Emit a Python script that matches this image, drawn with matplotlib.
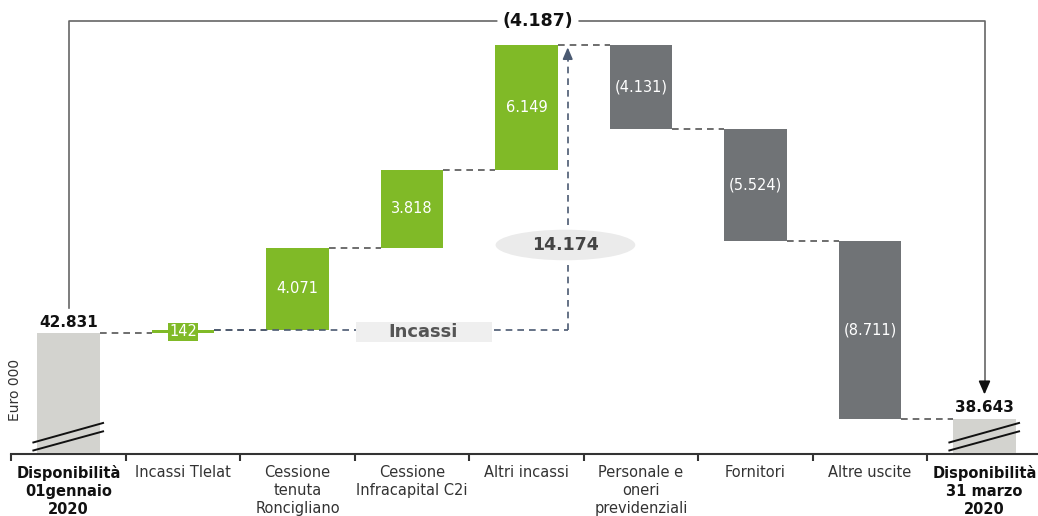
import matplotlib
matplotlib.use("Agg")
import matplotlib.pyplot as plt
import numpy as np
from matplotlib.patches import Ellipse, Rectangle

categories = [
    "Disponibilità\n01gennaio\n2020",
    "Incassi Tlelat",
    "Cessione\ntenuta\nRoncigliano",
    "Cessione\nInfracapital C2i",
    "Altri incassi",
    "Personale e\noneri\nprevidenziali",
    "Fornitori",
    "Altre uscite",
    "Disponibilità\n31 marzo\n2020",
]
values = [42831, 142, 4071, 3818, 6149, -4131, -5524, -8711, 38643]
kinds = ["total", "in", "in", "in", "in", "out", "out", "out", "total"]
# totals as printed on the chart (rounded in the source)
incassi_total = 14174
net_change = -4187

GREEN = "#80BA27"
DARK = "#707376"
LIGHT = "#D3D3CF"
BLUE = "#4B5A72"


def fmt(v):
    s = f"{abs(v):,}".replace(",", ".")
    return f"({s})" if v < 0 else s


fig = plt.figure(figsize=(10.38, 5.16), dpi=100)
ax = fig.add_axes([11.25 / 1038, 62.5 / 516, 1030.5 / 1038, 453.5 / 516])
ymin, ymax = 36930, 59200
ax.set_xlim(-0.5, 8.5)
ax.set_ylim(ymin, ymax)

w = 0.55
x = np.arange(len(values))
level = values[0]
tops = []
for i, (v, k) in enumerate(zip(values, kinds)):
    if k == "total":
        bottom, height, col = ymin, v - ymin, LIGHT
        top = v
    else:
        bottom = level if v > 0 else level + v
        height = abs(v)
        col = GREEN if k == "in" else DARK
        level += v
        top = level
    ax.bar(x[i], height, bottom=bottom, width=w, color=col, zorder=3)
    tops.append(top)
    if k == "total":
        ax.text(x[i], v + 180, fmt(v), ha="center", va="bottom",
                fontsize=11, fontweight="bold", color="#111", zorder=6)
    elif abs(v) < 500:
        ax.text(x[i], bottom + height / 2, fmt(v), ha="center", va="center",
                fontsize=10.5, color="white", zorder=6,
                bbox=dict(boxstyle="square,pad=0.08", fc=GREEN, ec="none"))
    else:
        ax.text(x[i], bottom + height / 2, fmt(v), ha="center", va="center",
                fontsize=10.5, color="white", zorder=6)

# connectors
for i in range(len(values) - 1):
    lvl = values[0] if i == 0 else tops[i]
    ax.plot([x[i] + w / 2, x[i + 1] - w / 2], [lvl, lvl], color="#555",
            lw=1.2, dashes=(4, 3), zorder=2)

# incassi arrow
x_arrow = 4.36
y_base = tops[1]
y_peak = tops[4]
ax.plot([x[1] + w / 2, x_arrow], [y_base, y_base], color=BLUE, lw=1.2,
        dashes=(4, 3), zorder=4)
ax.plot([x_arrow, x_arrow], [y_base, y_peak - 500], color=BLUE, lw=1.2,
        dashes=(4, 3), zorder=4)
ax.annotate("", xy=(x_arrow, y_peak), xytext=(x_arrow, y_peak - 600),
            arrowprops=dict(arrowstyle="-|>,head_length=0.7,head_width=0.3",
                            color=BLUE, lw=1.2), zorder=5)
ax.add_patch(Rectangle((2.51, 42404), 1.19, 982, fc="#EFEFEF", ec="none", zorder=5))
ax.text(3.1, 42895, "Incassi", ha="center", va="center", fontsize=13,
        fontweight="bold", color="#555", zorder=6)
ax.add_patch(Ellipse((4.34, 47170), 1.22, 1500, fc="#EBEBEB", ec="none", zorder=4))
ax.text(4.34, 47170, fmt(incassi_total), ha="center", va="center", fontsize=12.5,
        fontweight="bold", color="#444", zorder=6)

# overall change bracket
y_br = 58180
ax.plot([x[0], x[0], x[-1], x[-1]],
        [values[0] + 1230, y_br, y_br, values[-1] + 1800],
        color="#666", lw=1.2, zorder=2)
ax.annotate("", xy=(x[-1], values[-1] + 1050), xytext=(x[-1], values[-1] + 1900),
            arrowprops=dict(arrowstyle="-|>,head_length=0.8,head_width=0.35",
                            color="#111", lw=1.2), zorder=5)
ax.text(4.1, y_br, fmt(net_change), ha="center", va="center", fontsize=12.5,
        fontweight="bold", color="#111", zorder=6,
        bbox=dict(boxstyle="round,pad=0.3", fc="white", ec="none"))

# axis break marks
for i in (0, 8):
    for y0, y1 in ((37460, 38442), (37067, 38030)):
        ax.plot([x[i] - 0.315, x[i] + 0.31], [y0, y1], color="#111", lw=1.4,
                zorder=5, solid_capstyle="butt")

for s in ("top", "right", "left"):
    ax.spines[s].set_visible(False)
ax.spines["bottom"].set_color("#333")
ax.spines["bottom"].set_linewidth(1.5)
ax.set_yticks([])
ax.set_xticks(x)
ax.set_xticks(np.arange(-0.5, 8.6, 1), minor=True)
ax.tick_params(axis="x", which="major", length=0, pad=8)
ax.tick_params(axis="x", which="minor", length=5, width=1.5, color="#333")
labs = ax.set_xticklabels(categories, fontsize=10.5, color="#333", linespacing=1.25,
                          va="top")
labs[0].set_fontweight("bold")
labs[-1].set_fontweight("bold")
labs[0].set_color("#111")
labs[-1].set_color("#111")

fig.text(15 / 1038, 1 - 390 / 516, "Euro 000", rotation=90, ha="center",
         va="center", fontsize=10, color="#333")

fig.savefig("out.png", dpi=100)
